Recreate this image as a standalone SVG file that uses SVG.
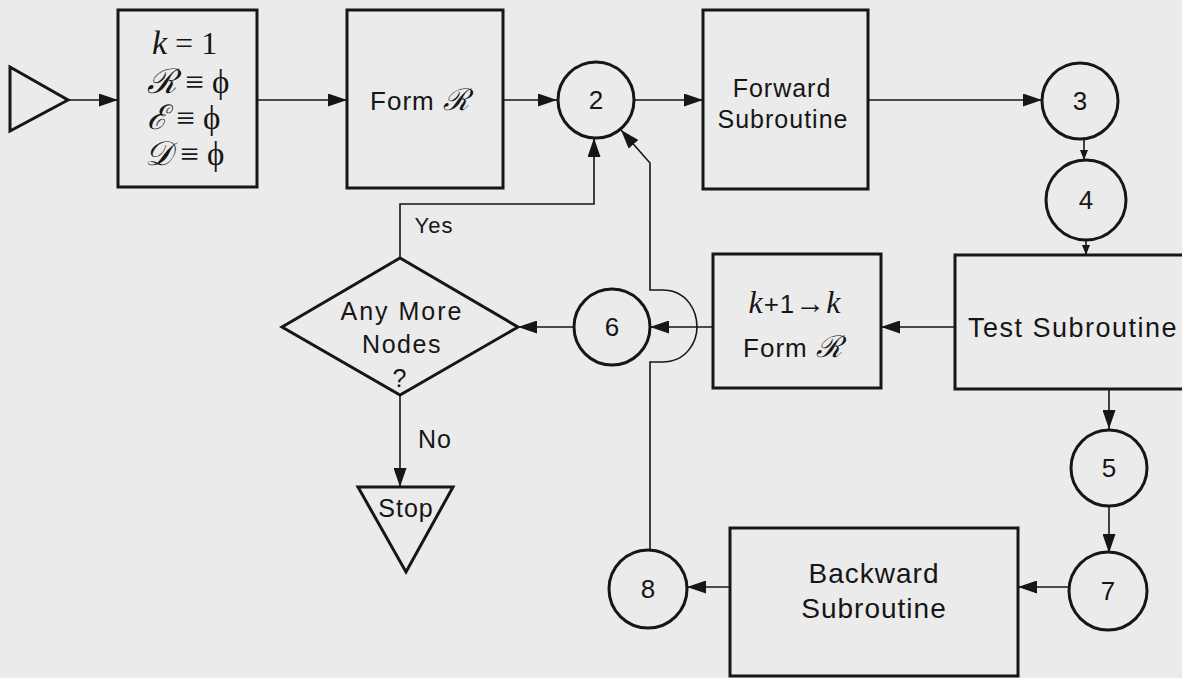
<svg xmlns="http://www.w3.org/2000/svg" width="1182" height="678" viewBox="0 0 1182 678">
<defs>
<marker id="ah" markerUnits="userSpaceOnUse" markerWidth="19" markerHeight="13" refX="19" refY="6.5" orient="auto"><path d="M0,0 L19,6.5 L0,13 z" fill="#161616"/></marker>
<marker id="as" markerUnits="userSpaceOnUse" markerWidth="10" markerHeight="8" refX="10" refY="4" orient="auto"><path d="M0,0 L10,4 L0,8 z" fill="#161616"/></marker>
<style>
.shape{fill:none;stroke:#161616;stroke-width:3;stroke-linejoin:miter}
.conn{fill:none;stroke:#161616;stroke-width:1.6}
.t{font-family:"Liberation Sans",Arial,sans-serif;fill:#161616;text-anchor:middle;letter-spacing:1px}
.m{font-family:"Liberation Serif","DejaVu Serif",serif;font-style:italic;fill:#161616}
.n{font-family:"Liberation Sans",Arial,sans-serif;fill:#161616;text-anchor:middle;font-size:26px}
</style>
</defs>
<rect width="1182" height="678" fill="#ebebeb"/>
<g id="connectors">
<line class="conn" x1="68" y1="100" x2="118" y2="100" marker-end="url(#ah)"/>
<line class="conn" x1="257" y1="100" x2="347" y2="100" marker-end="url(#ah)"/>
<line class="conn" x1="503" y1="100" x2="557" y2="100" marker-end="url(#ah)"/>
<line class="conn" x1="634" y1="100" x2="703" y2="100" marker-end="url(#ah)"/>
<line class="conn" x1="868" y1="100" x2="1042" y2="100" marker-end="url(#ah)"/>
<line class="conn" x1="1084" y1="139" x2="1084" y2="160" marker-end="url(#as)"/>
<line class="conn" x1="1086" y1="240" x2="1086" y2="255" marker-end="url(#as)"/>
<line class="conn" x1="955" y1="327" x2="881" y2="327" marker-end="url(#ah)"/>
<line class="conn" x1="713" y1="327" x2="650" y2="327" marker-end="url(#ah)"/>
<line class="conn" x1="574" y1="327" x2="518" y2="327" marker-end="url(#ah)"/>
<polyline class="conn" points="400,258 400,204 594,204 594,138" marker-end="url(#ah)"/>
<line class="conn" x1="400" y1="395" x2="400" y2="487" marker-end="url(#ah)"/>
<line class="conn" x1="1109" y1="389" x2="1109" y2="429" marker-end="url(#ah)"/>
<line class="conn" x1="1109" y1="507" x2="1109" y2="553" marker-end="url(#ah)"/>
<line class="conn" x1="1069" y1="587" x2="1018" y2="587" marker-end="url(#ah)"/>
<line class="conn" x1="730" y1="587" x2="687" y2="587" marker-end="url(#ah)"/>
<path class="conn" d="M650,550 L650,362 L662,362 C688,362 697,340 697,327 C697,312 688,290 662,290 L650,290 L650,163 L621,130" marker-end="url(#ah)"/>
<text class="t" x="434" y="233" font-size="22">Yes</text>
<text class="t" x="435" y="448" font-size="25">No</text>
</g>
<g id="start"><polygon class="shape" points="10,67 68,100 10,131"/></g>
<g id="init">
<rect class="shape" x="118" y="10" width="139" height="177"/>
<text class="m" x="152" y="54" font-size="34">k<tspan font-style="normal" font-size="32"> = 1</tspan></text>
<text class="m" x="147" y="93" font-size="34">ℛ<tspan font-style="normal" font-size="33"> ≡ ϕ</tspan></text>
<text class="m" x="147" y="129" font-size="34">ℰ<tspan font-style="normal" font-size="33"> ≡ ϕ</tspan></text>
<text class="m" x="145" y="165" font-size="34">𝒟<tspan font-style="normal" font-size="33"> ≡ ϕ</tspan></text>
</g>
<g id="formR">
<rect class="shape" x="347" y="10" width="156" height="178"/>
<text class="t" x="420" y="110" font-size="26">Form <tspan class="m" font-size="30">ℛ</tspan></text>
</g>
<g id="c2"><circle class="shape" cx="596" cy="100" r="38"/><text class="n" x="596" y="109">2</text></g>
<g id="forward">
<rect class="shape" x="703" y="10" width="165" height="179"/>
<text class="t" x="782" y="97" font-size="25">Forward</text>
<text class="t" x="783" y="128" font-size="25">Subroutine</text>
</g>
<g id="c3"><circle class="shape" cx="1080" cy="101" r="38"/><text class="n" x="1080" y="110">3</text></g>
<g id="c4"><circle class="shape" cx="1086" cy="200" r="40"/><text class="n" x="1086" y="209">4</text></g>
<g id="test">
<rect class="shape" x="955" y="255" width="250" height="134"/>
<text class="t" x="1073" y="337" font-size="27" style="letter-spacing:1.5px">Test Subroutine</text>
</g>
<g id="incr">
<rect class="shape" x="713" y="254" width="168" height="134"/>
<text class="t" x="795" y="313" font-size="26"><tspan class="m" font-size="32">k</tspan>+1<tspan font-size="30" font-weight="bold">→</tspan><tspan class="m" font-size="32">k</tspan></text>
<text class="t" x="793" y="357" font-size="26">Form <tspan class="m" font-size="30">ℛ</tspan></text>
</g>
<g id="c6"><circle class="shape" cx="612" cy="327" r="38"/><text class="n" x="612" y="336">6</text></g>
<g id="decision">
<polygon class="shape" points="282,327 400,258 518,327 400,395"/>
<text class="t" x="402" y="320" font-size="25" style="letter-spacing:2px">Any More</text>
<text class="t" x="402" y="353" font-size="25" style="letter-spacing:1.5px">Nodes</text>
<text class="t" x="400" y="387" font-size="25">?</text>
</g>
<g id="stop">
<polygon class="shape" points="358,487 453,487 406,572"/>
<text class="t" x="406" y="517" font-size="25">Stop</text>
</g>
<g id="c5"><circle class="shape" cx="1109" cy="468" r="38"/><text class="n" x="1109" y="477">5</text></g>
<g id="c7"><circle class="shape" cx="1108" cy="591" r="39"/><text class="n" x="1108" y="600">7</text></g>
<g id="backward">
<rect class="shape" x="730" y="528" width="288" height="148"/>
<text class="t" x="874" y="583" font-size="28">Backward</text>
<text class="t" x="874" y="618" font-size="28">Subroutine</text>
</g>
<g id="c8"><circle class="shape" cx="648" cy="589" r="39"/><text class="n" x="648" y="598">8</text></g>
</svg>
